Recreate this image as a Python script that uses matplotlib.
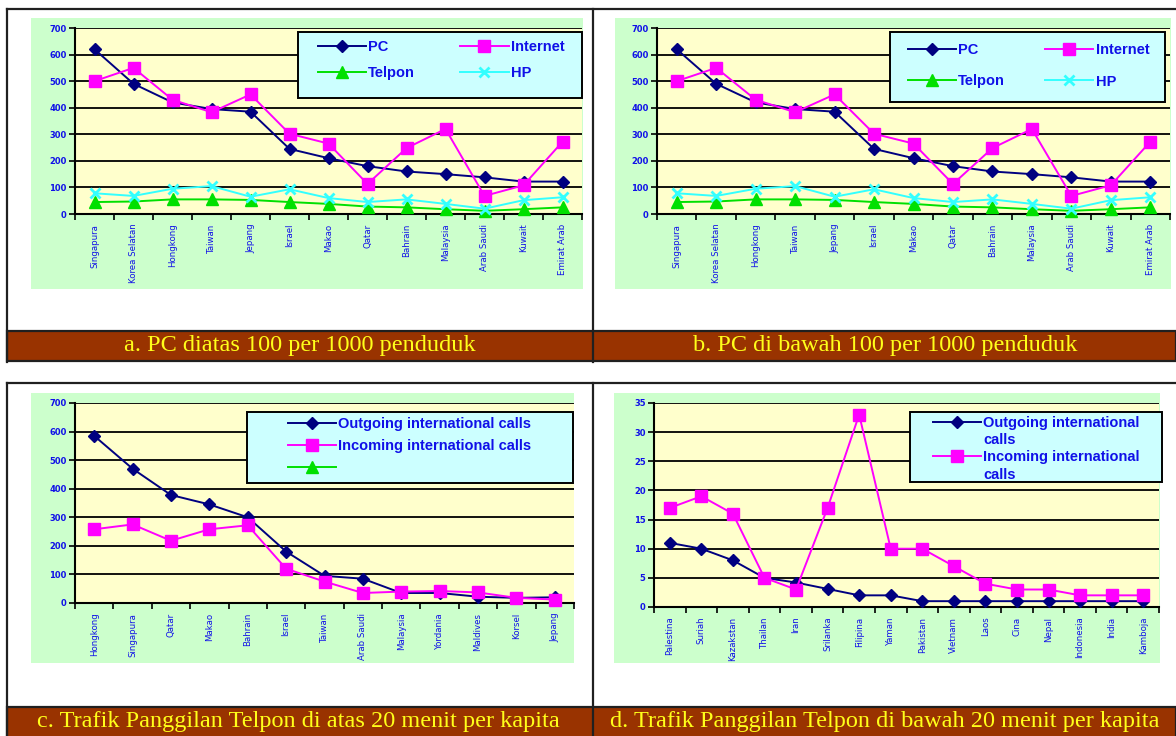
import matplotlib.pyplot as plt
from matplotlib.patches import Rectangle
from matplotlib.lines import Line2D

W, H = 1176, 736

# --- data ---
negara_pc = ['Singapura', 'Korea Selatan', 'Hongkong', 'Taiwan', 'Jepang', 'Israel', 'Makao',
             'Qatar', 'Bahrain', 'Malaysia', 'Arab Saudi', 'Kuwait', 'Emirat Arab']
pc = [620, 490, 420, 395, 385, 245, 210, 180, 160, 150, 138, 122, 122]
internet = [500, 550, 430, 383, 450, 302, 265, 113, 248, 320, 68, 108, 272]
telpon = [45, 47, 55, 55, 53, 45, 38, 28, 25, 18, 12, 18, 25]
hp = [78, 68, 95, 105, 65, 93, 60, 45, 55, 38, 20, 52, 63]

negara_atas = ['Hongkong', 'Singapura', 'Qatar', 'Makao', 'Bahrain', 'Israel', 'Taiwan',
               'Arab Saudi', 'Malaysia', 'Yordania', 'Maldives', 'Korsel', 'Jepang']
keluar_atas = [585, 470, 378, 345, 300, 180, 95, 85, 35, 35, 22, 18, 20]
masuk_atas = [258, 275, 218, 258, 272, 120, 75, 35, 40, 42, 37, 18, 12]

negara_bawah = ['Palestina', 'Suriah', 'Kazakstan', 'Thailan', 'Iran', 'Srilanka', 'Filipina',
                'Yaman', 'Pakistan', 'Vietnam', 'Laos', 'Cina', 'Nepal', 'Indonesia', 'India',
                'Kamboja']
keluar_bawah = [11, 10, 8, 5, 4.2, 3.1, 2, 2, 1, 1, 1, 1, 1, 1, 1, 1]
masuk_bawah = [17, 19, 16, 5, 3, 17, 33, 10, 10, 7, 4, 3, 3, 2, 2, 2]

judul = ['a. PC diatas 100 per 1000 penduduk',
         'b. PC di bawah 100 per 1000 penduduk',
         'c. Trafik Panggilan Telpon di atas 20 menit per kapita',
         'd. Trafik Panggilan Telpon di bawah 20 menit per kapita']

BIRU = '#1010E8'
GAYA = {
    'PC': dict(color='#000080', marker='D', ms=6.5),
    'Internet': dict(color='#FF00FF', marker='s', ms=8.5),
    'Telpon': dict(color='#00E000', marker='^', ms=8.5),
    'HP': dict(color='#33FFFF', marker='x', ms=7.5, mew=2),
}

fig = plt.figure(figsize=(W / 100, H / 100), dpi=100)
fig.patch.set_facecolor('white')


def fig_rect(x0, y0, x1, y1):
    return [x0 / W, 1 - y1 / H, (x1 - x0) / W, (y1 - y0) / H]


def kotak(x0, y0, x1, y1, fc, ec='none', lw=0, z=-5):
    l, b, w, h = fig_rect(x0, y0, x1, y1)
    fig.add_artist(Rectangle((l, b), w, h, transform=fig.transFigure, fc=fc, ec=ec,
                             lw=lw, zorder=z))


def garis(x0, y0, x1, y1, lw=1.6):
    fig.add_artist(Line2D([x0 / W, x1 / W], [1 - y0 / H, 1 - y1 / H],
                          transform=fig.transFigure, color='#202020', lw=lw, zorder=5))


def legenda(handles, labels, box, anchor, ncol=1, spasi=1.0, kolom=2.0, panjang=3.3):
    # kotak legenda biru muda, lalu isi legenda tanpa bingkai di atasnya
    kotak(*box, fc='#CCFFFF', ec='black', lw=1.4, z=4)
    leg = fig.legend(handles, labels, loc='upper left',
                     bbox_to_anchor=(anchor[0] / W, 1 - anchor[1] / H),
                     bbox_transform=fig.transFigure, ncol=ncol, frameon=False,
                     borderpad=0, borderaxespad=0, handlelength=panjang,
                     handletextpad=0.15, labelspacing=spasi, columnspacing=kolom,
                     prop=dict(family='Liberation Sans', weight='bold', size=10.5),
                     labelcolor=BIRU)
    leg.set_zorder(6)
    return leg


def grafik(area, hijau, kategori, seri, ymax, ystep):
    kotak(*hijau, fc='#CCFFCC')
    ax = fig.add_axes(fig_rect(*area))
    ax.set_facecolor('#FFFFCC')
    xs = list(range(len(kategori)))
    for nama, nilai, gaya in seri:
        ax.plot(xs, nilai, label=nama, lw=1.4, mec=gaya['color'], **gaya, clip_on=False,
                zorder=3)
    ax.set_xlim(-0.5, len(kategori) - 0.5)
    ax.set_ylim(0, ymax)
    ax.set_yticks(range(0, ymax + 1, ystep))
    ax.yaxis.grid(True, color='black', lw=1.3)
    ax.set_axisbelow(True)
    for s in ('top', 'right'):
        ax.spines[s].set_visible(False)
    for s in ('left', 'bottom'):
        ax.spines[s].set_linewidth(1.5)
    ax.tick_params(axis='y', length=4, width=1.2, pad=2, labelsize=6, labelcolor=BIRU)
    for t in ax.get_yticklabels():
        t.set_fontweight('bold')
    ax.set_xticks([i - 0.5 for i in range(len(kategori) + 1)])
    ax.set_xticklabels([])
    ax.tick_params(axis='x', which='major', length=4, width=1.2)
    ax.set_xticks(xs, minor=True)
    ax.set_xticklabels(kategori, minor=True, rotation=90, fontsize=6.2, color=BIRU,
                       va='top')
    ax.tick_params(axis='x', which='minor', length=0, pad=7)
    return ax


# panel a dan b
seri_pc = [('PC', pc, GAYA['PC']), ('Telpon', telpon, GAYA['Telpon']),
           ('Internet', internet, GAYA['Internet']), ('HP', hp, GAYA['HP'])]
for area, hijau, box, anchor, spasi, kolom in [
        ((75, 28, 582, 214), (31, 18, 583, 289), (298, 32, 582, 98), (318, 40), 0.85, 3.1),
        ((657, 28, 1170, 214), (615, 18, 1171, 289), (890, 32, 1165, 102), (908, 43), 1.2,
         2.75)]:
    ax = grafik(area, hijau, negara_pc, seri_pc, 700, 100)
    h, l = ax.get_legend_handles_labels()
    legenda(h, l, box, anchor, ncol=2, spasi=spasi, kolom=kolom)

# panel c
seri_c = [('Outgoing international calls', keluar_atas, GAYA['PC']),
          ('Incoming international calls', masuk_atas, GAYA['Internet'])]
ax_c = grafik((75, 403, 574, 603), (31, 393, 574, 663), negara_atas, seri_c, 700, 100)
h, l = ax_c.get_legend_handles_labels()
h.append(Line2D([], [], lw=1.4, mec=GAYA['Telpon']['color'], **GAYA['Telpon']))
l.append(' ')
legenda(h, l, (247, 412, 573, 483), (288, 417), spasi=0.55)

# panel d
seri_d = [('Outgoing international', keluar_bawah, GAYA['PC']),
          ('Incoming international', masuk_bawah, GAYA['Internet'])]
ax_d = grafik((654, 403, 1159, 607), (614, 393, 1160, 663), negara_bawah, seri_d, 35, 5)
h, l = ax_d.get_legend_handles_labels()
kosong = Line2D([], [], color='none')
legenda([h[0], kosong, h[1], kosong], [l[0], 'calls', l[1], 'calls'],
        (910, 412, 1162, 482), (933, 416), spasi=0.22)

# garis bingkai dan pita judul
garis(7, 9, 1176, 9)
garis(7, 9, 7, 362)
garis(593, 9, 593, 362)
garis(7, 383, 1176, 383)
garis(7, 383, 7, 736)
garis(593, 383, 593, 736)
kotak(7, 331, 1176, 361, fc='#993300', ec='#202020', lw=1.6, z=4)
kotak(7, 707, 1176, 740, fc='#993300', ec='#202020', lw=1.6, z=4)
pos = [(300, 346), (885, 346), (298, 722), (885, 722)]
for (cx, cy), teks in zip(pos, judul):
    fig.text(cx / W, 1 - cy / H, teks, ha='center', va='center', color='#FFFF1A',
             family='Liberation Serif', fontsize=17.5, zorder=6)

fig.savefig('out.png', dpi=100, facecolor='white')
